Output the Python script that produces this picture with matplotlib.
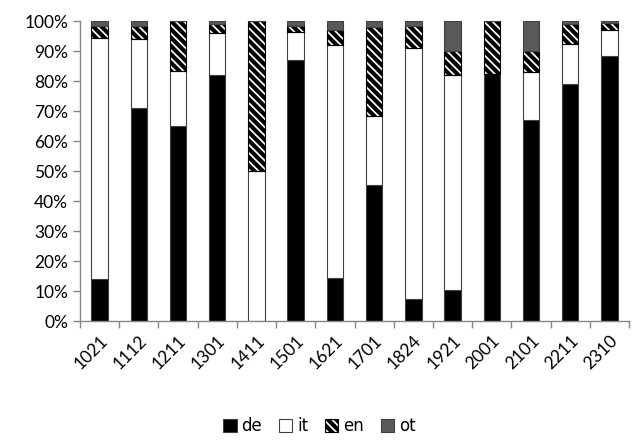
import matplotlib.pyplot as plt
import numpy as np
from matplotlib.ticker import PercentFormatter

plt.rcParams['font.family'] = ['Lato', 'DejaVu Sans']
plt.rcParams['hatch.linewidth'] = 3.0

# data (percent shares per category)
labels = ['1021', '1112', '1211', '1301', '1411', '1501', '1621',
          '1701', '1824', '1921', '2001', '2101', '2211', '2310']
de = [14, 71, 65, 82, 0, 87, 14.5, 45.5, 7.5, 10.5, 82.5, 67, 79, 88.5]
it = [80.5, 23, 18.5, 14, 50, 9.5, 77.5, 23, 83.5, 71.5, 0, 16, 13.5, 8.5]
en = [4, 4.5, 16.5, 3, 50, 2, 5, 29.5, 7.5, 8, 17.5, 7, 6.5, 2.5]
ot = [1.5, 1.5, 0, 1, 0, 1.5, 3, 2, 1.5, 10, 0, 10, 1, 0.5]

fig = plt.figure(figsize=(6.39, 4.43), dpi=100)
ax = fig.add_axes([80/639, 1-321/443, 549/639, 300/443])

x = np.arange(len(labels))
w = 0.42
edge = '#404040'
ax.bar(x, de, w, color='black', edgecolor=edge, linewidth=0.8, label='de')
ax.bar(x, it, w, bottom=de, color='white', edgecolor=edge, linewidth=0.8, label='it')
b2 = np.array(de) + np.array(it)
ax.bar(x, en, w, bottom=b2, color='white', edgecolor='black', hatch='\\\\\\\\',
       linewidth=0.8, label='en')
b3 = b2 + np.array(en)
ax.bar(x, ot, w, bottom=b3, color='#595959', edgecolor=edge, linewidth=0.8, label='ot')

ax.set_xlim(-0.5, len(labels) - 0.5)
ax.set_ylim(0, 100)
ax.set_yticks(np.arange(0, 101, 10))
ax.yaxis.set_major_formatter(PercentFormatter(decimals=0))
ax.set_xticks(x)
ax.set_xticklabels(labels, rotation=45, ha='right', rotation_mode='anchor')
ax.set_xticks(np.arange(-0.5, len(labels), 1), minor=True)
ax.tick_params(axis='x', which='major', length=0, labelsize=12.5, pad=8)
ax.tick_params(axis='x', which='minor', length=5, color='#868686', width=1)
ax.tick_params(axis='y', length=5, color='#868686', width=1, labelsize=12.5)

for s in ['top', 'right']:
    ax.spines[s].set_visible(False)
for s in ['left', 'bottom']:
    ax.spines[s].set_color('#868686')
    ax.spines[s].set_linewidth(1)

fig.legend(loc='center', bbox_to_anchor=(0.5, 1 - 426/443), ncol=4, frameon=False,
           handlelength=0.8, handleheight=0.8, handletextpad=0.3,
           columnspacing=1.0, prop={'family': 'DejaVu Sans', 'size': 12})

fig.savefig('out.png', dpi=100)
